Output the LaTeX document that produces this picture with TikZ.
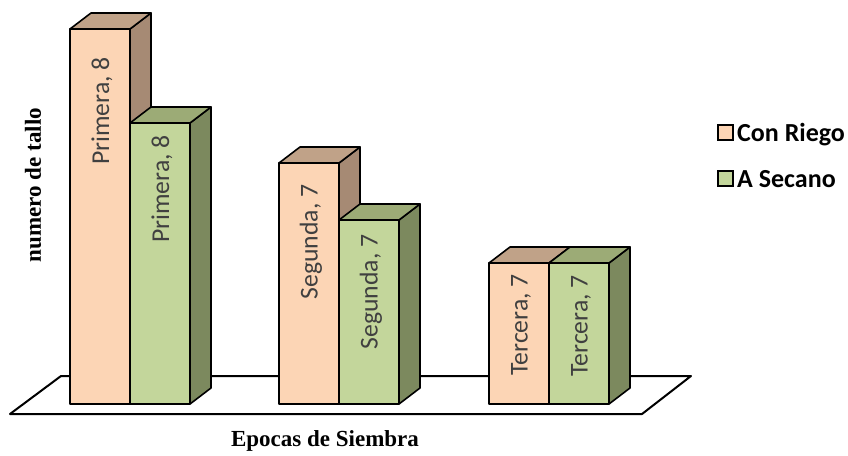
\documentclass[tikz,border=0pt]{standalone}
\usepackage{fontspec}
\newfontfamily\barfont{Carlito}
\newfontfamily\axisfont{Liberation Serif}
\definecolor{riegofront}{RGB}{252,213,181}
\definecolor{riegoside}{RGB}{166,138,116}
\definecolor{riegotop}{RGB}{192,162,136}
\definecolor{secanofront}{RGB}{195,214,155}
\definecolor{secanoside}{RGB}{124,137,94}
\definecolor{secanotop}{RGB}{156,171,118}
\definecolor{labgray}{RGB}{64,64,64}

\begin{document}
\begin{tikzpicture}[
  x=1pt, y=-1pt,
  barlabel/.style = {rotate=90, inner sep=0pt, text=labgray,
    font=\barfont\fontsize{25.7}{28}\selectfont},
  axislabel/.style = {inner sep=0pt, font=\axisfont\bfseries\fontsize{23}{26}\selectfont},
  legtext/.style = {anchor=base west, inner sep=0pt,
    font=\barfont\bfseries\fontsize{26}{28}\selectfont},
  legbox/.style = {draw, line width=2pt, minimum size=15pt, inner sep=0pt},
  edge/.style = {draw=black, line width=1.6pt, line join=round}
]
  \useasboundingbox (0,0) rectangle (848,455);

  % floor
  \draw[line width=2pt, line join=round] (10,414) -- (61,376) -- (691,376) -- (642,414) -- cycle;

  % bars: left x / top y / colour / label / label y
  \foreach \x/\top/\col/\lab/\ly [count=\i] in {
      70/29/riego/{Primera, 8}/111,
      130/123/secano/{Primera, 8}/189,
      279/163/riego/{Segunda, 7}/242,
      339/220/secano/{Segunda, 7}/292,
      489/263/riego/{Tercera, 7}/325,
      549/263/secano/{Tercera, 7}/326} {
    \filldraw[edge, fill=\col front] (\x,404) rectangle (\x+60,\top);
    \filldraw[edge, fill=\col side] (\x+60,404) -- (\x+81,388) -- (\x+81,\top-16) -- (\x+60,\top) -- cycle;
    \filldraw[edge, fill=\col top] (\x,\top) -- (\x+21,\top-16) -- (\x+81,\top-16) -- (\x+60,\top) -- cycle;
    \node[barlabel] (bar-\i) at (\x+32,\ly) {\lab};
  }

  % axis titles
  \node[axislabel, rotate=90] (ytitle) at (33,185) {numero de tallo};
  \node[axislabel] (xtitle) at (325,441) {Epocas de Siembra};

  % legend
  \node[legbox, fill=riegofront] (key-riego) at (725,132) {};
  \node[legtext] (txt-riego) at (737,141) {Con Riego};
  \node[legbox, fill=secanofront] (key-secano) at (725,178) {};
  \node[legtext] (txt-secano) at (737,187) {A Secano};
\end{tikzpicture}
\end{document}
